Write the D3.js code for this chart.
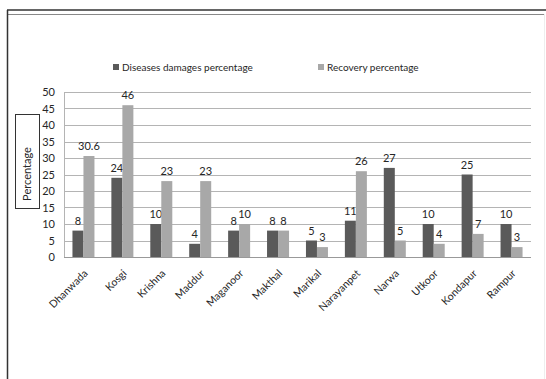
<!DOCTYPE html>
<html>
<head>
<meta charset="utf-8">
<script src="https://cdn.jsdelivr.net/npm/d3@7"></script>
<style>
  body { margin: 0; background: #fff; }
  svg text { font-family: Lato, "Open Sans", sans-serif; fill: #262626; }
</style>
</head>
<body>
<div id="vis"></div>
<script>
var villages = ["Dhanwada", "Kosgi", "Krishna", "Maddur", "Maganoor", "Makthal",
    "Marikal", "Narayanpet", "Narwa", "Utkoor", "Kondapur", "Rampur"];
var damages = [8, 24, 10, 4, 8, 8, 5, 11, 27, 10, 25, 10];
var recovery = [30.6, 46, 23, 23, 10, 8, 3, 26, 5, 4, 7, 3];
var damageLabels = ["8", "24", "10", "4", "8", "8", "5", "11", "27", "10", "25", "10"];
var recoveryLabels = ["30.6", "46", "23", "23", "10", "8", "3", "26", "5", "4", "7", "3"];
var seriesNames = ["Diseases damages percentage", "Recovery percentage"];
var yTicks = [0, 5, 10, 15, 20, 25, 30, 35, 40, 45, 50];

var colors = ["#5a5a5a", "#a8a8a8"];

var width = 546, height = 379;
var margin = { top: 92, right: 15, bottom: 122, left: 64 },
    drawWidth = width - margin.left - margin.right,
    drawHeight = height - margin.top - margin.bottom;

var svg = d3.select("#vis").append("svg")
    .attr("width", width)
    .attr("height", height);

// outer frame
svg.append("line").attr("x1", 7).attr("x2", 546).attr("y1", 10).attr("y2", 10)
    .attr("stroke", "#333").attr("stroke-width", 1.5);
svg.append("line").attr("x1", 7).attr("x2", 544).attr("y1", 14.5).attr("y2", 14.5)
    .attr("stroke", "#888").attr("stroke-width", 1.2);
svg.append("line").attr("x1", 7.5).attr("x2", 7.5).attr("y1", 10).attr("y2", 379)
    .attr("stroke", "#333").attr("stroke-width", 1.5);
svg.append("line").attr("x1", 544.5).attr("x2", 544.5).attr("y1", 14).attr("y2", 379)
    .attr("stroke", "#eee").attr("stroke-width", 1);

var g = svg.append("g")
    .attr("transform", "translate(" + margin.left + "," + margin.top + ")");

var x = d3.scaleBand()
    .domain(villages)
    .range([0, drawWidth])
    .paddingInner(0)
    .paddingOuter(0);

var barW = 11;
var y = d3.scaleLinear()
    .domain([0, 50])
    .range([drawHeight, 0]);

// gridlines
g.selectAll(".grid")
    .data(yTicks)
    .enter().append("line")
    .attr("class", "grid")
    .attr("x1", 0)
    .attr("x2", drawWidth)
    .attr("y1", function(d) { return Math.round(y(d)) + 0.5; })
    .attr("y2", function(d) { return Math.round(y(d)) + 0.5; })
    .attr("stroke", function(d) { return d === 0 ? "#999" : "#b4b4b4"; })
    .attr("stroke-width", 1);

// left axis line
g.append("line")
    .attr("x1", 0.5).attr("x2", 0.5)
    .attr("y1", 0).attr("y2", drawHeight)
    .attr("stroke", "#b4b4b4");

var yAxis = d3.axisLeft(y).tickValues(yTicks).tickSize(0).tickPadding(9);
var yg = g.append("g").call(yAxis);
yg.select(".domain").remove();
yg.selectAll("text").style("font-size", "11px").style("fill", "#262626");

var xAxis = d3.axisBottom(x).tickSize(0).tickPadding(0);
var xg = g.append("g")
    .attr("transform", "translate(0," + drawHeight + ")")
    .call(xAxis);
xg.select(".domain").remove();
xg.selectAll("text")
    .style("font-size", "10.5px")
    .style("fill", "#262626")
    .style("text-anchor", "end")
    .attr("dy", "0")
    .attr("y", 0)
    .attr("transform", "translate(5,17) rotate(-45)");

// bars
var series = [damages, recovery];
var labels = [damageLabels, recoveryLabels];
series.forEach(function(vals, si) {
    g.selectAll(".bar" + si)
        .data(vals)
        .enter().append("rect")
        .attr("x", function(d, i) {
            return x(villages[i]) + x.bandwidth() / 2 - barW + si * barW;
        })
        .attr("y", function(d) { return y(d); })
        .attr("width", barW)
        .attr("height", function(d) { return drawHeight - y(d); })
        .attr("fill", colors[si]);

    g.selectAll(".lab" + si)
        .data(vals)
        .enter().append("text")
        .attr("x", function(d, i) {
            return x(villages[i]) + x.bandwidth() / 2 - barW / 2 + si * barW;
        })
        .attr("y", function(d) { return y(d) - 6; })
        .attr("text-anchor", "middle")
        .style("font-size", "11px")
        .text(function(d, i) { return labels[si][i]; });
});

// legend
var legendX = [113, 318];
seriesNames.forEach(function(name, i) {
    svg.append("rect")
        .attr("x", legendX[i]).attr("y", 64)
        .attr("width", 6).attr("height", 6)
        .attr("fill", colors[i]);
    svg.append("text")
        .attr("x", legendX[i] + 9).attr("y", 71)
        .style("font-size", "10px")
        .text(name);
});

// y axis title in a box
svg.append("rect")
    .attr("x", 15.5).attr("y", 114.5)
    .attr("width", 24).attr("height", 94)
    .attr("fill", "none")
    .attr("stroke", "#333");
svg.append("text")
    .attr("transform", "translate(31,174) rotate(-90)")
    .attr("text-anchor", "middle")
    .style("font-size", "11px")
    .text("Percentage");
</script>
</body>
</html>
